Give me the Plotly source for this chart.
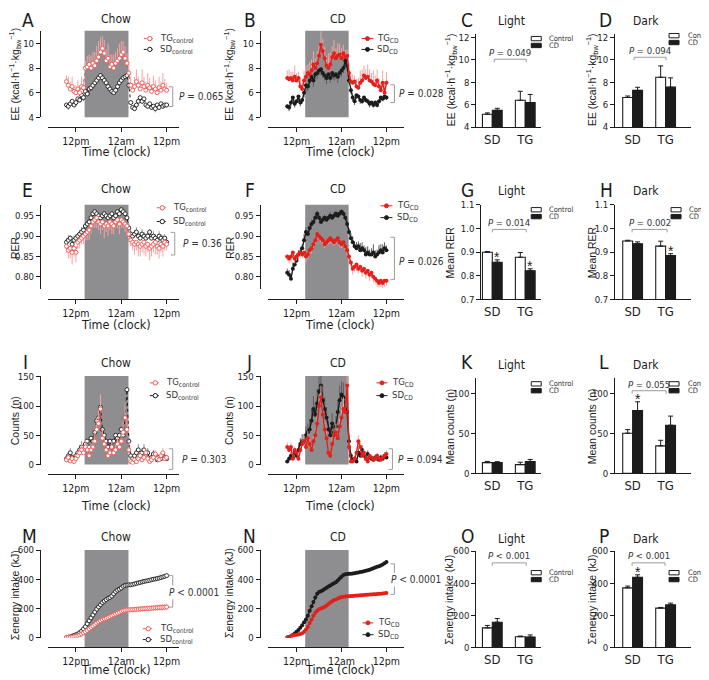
import plotly.graph_objects as go

W, H = 709, 680
OFF = 8                      # default page (body) margin of the written html
FW, FH = W - OFF, H - OFF
NARROW = "Liberation Sans Narrow, DejaVu Sans Condensed, Liberation Sans, Arial, sans-serif"
REG = "Liberation Sans, Arial, Helvetica, sans-serif"
INK = "#1c1c1c"
RED = "#e3201b"
RED_CHOW = "#ee5652"
PINK = "#f4a4a4"
SD_ERR_COL = "#8f8f8f"
CD_SD_ERR_COL = "#5c5c5c"
BAND = "#8e8e90"
BRACKET = "#9c9c9c"

# ---------------- data ----------------
TIME = [9.5, 10, 10.5, 11, 11.5, 12, 12.5, 13, 13.5,
        14, 14.5, 15, 15.5, 16, 16.5, 17, 17.5, 18,
        18.5, 19, 19.5, 20, 20.5, 21, 21.5, 22, 22.5,
        23, 23.5, 24, 24.5, 25, 25.5, 26, 26.5, 27,
        27.5, 28, 28.5, 29, 29.5, 30, 30.5, 31, 31.5,
        32, 32.5, 33, 33.5, 34, 34.5, 35, 35.5, 36]
TIME_TICKS = [12, 24, 36]
TIME_LABELS = ["12pm", "12am", "12pm"]
DARK_PHASE = [14.3, 25.9]
GROUPS = ["SD", "TG"]

# A  EE chow
EE_CHOW_TG = [6.9, 6.6, 6.3, 6.5, 6.1, 6.0, 6.3, 6.0, 6.5,
              6.4, 8.0, 8.1, 8.3, 8.0, 8.4, 8.2, 8.6, 8.9,
              9.3, 9.6, 9.2, 8.6, 8.8, 8.1, 8.3, 8.0, 8.4,
              8.6, 8.8, 9.1, 9.3, 8.8, 8.4, 7.6, 6.6, 6.2,
              6.5, 6.9, 6.6, 6.3, 6.8, 6.5, 6.2, 6.6, 6.4,
              6.1, 6.5, 6.3, 6.0, 6.4, 6.2, 6.6, 6.3, 6.2]
EE_CHOW_TG_ERR = [0.5, 0.7, 0.6, 0.8, 0.5, 0.6, 0.7, 0.6, 0.8,
                  0.7, 0.6, 0.9, 0.8, 1.0, 0.9, 1.1, 1.2, 1.3,
                  1.2, 1.0, 1.1, 0.9, 1.2, 1.0, 0.8, 1.1, 0.9,
                  1.0, 1.2, 1.1, 0.9, 1.0, 0.8, 0.9, 0.7, 0.6,
                  0.8, 1.0, 0.7, 0.6, 1.1, 0.8, 0.7, 1.0, 0.8,
                  0.6, 0.9, 0.7, 0.6, 0.9, 0.7, 1.0, 0.8, 0.6]
EE_CHOW_SD = [5.0, 4.9, 5.1, 5.3, 5.0, 5.2, 5.5, 5.4, 5.8,
              5.6, 6.1, 5.9, 6.3, 6.4, 6.6, 6.8, 7.0, 7.2,
              7.4, 7.2, 7.0, 6.8, 6.5, 6.3, 6.1, 6.0, 6.2,
              6.5, 6.8, 7.0, 7.2, 7.3, 7.4, 6.6, 5.2, 4.8,
              4.7, 5.0, 5.3, 5.6, 5.3, 5.5, 5.0, 4.9, 5.1,
              4.8, 4.9, 4.7, 5.0, 4.8, 5.1, 4.9, 5.0, 5.0]
EE_CHOW_SD_ERR = [0.2, 0.3, 0.2, 0.3, 0.2, 0.3, 0.3, 0.2, 0.4,
                  0.3, 0.4, 0.3, 0.4, 0.3, 0.4, 0.4, 0.3, 0.4,
                  0.3, 0.4, 0.3, 0.3, 0.4, 0.3, 0.3, 0.4, 0.3,
                  0.4, 0.3, 0.4, 0.3, 0.4, 0.3, 0.3, 0.2, 0.2,
                  0.2, 0.3, 0.2, 0.3, 0.2, 0.3, 0.2, 0.2, 0.3,
                  0.2, 0.2, 0.3, 0.2, 0.2, 0.3, 0.2, 0.2, 0.2]

# B  EE CD
EE_CD_TG = [7.2, 7.1, 7.2, 7.0, 7.3, 7.0, 7.2, 6.5, 6.3,
            7.0, 7.3, 7.6, 7.5, 7.8, 8.3, 8.0, 8.4, 9.0,
            9.9, 9.4, 8.8, 8.2, 8.0, 8.3, 8.9, 9.2, 8.8,
            9.0, 9.1, 8.8, 9.2, 8.9, 9.0, 7.6, 6.9, 6.8,
            6.9, 6.5, 6.4, 6.8, 7.0, 7.4, 7.2, 7.3, 7.0,
            6.9, 6.7, 6.6, 7.0, 6.5, 6.2, 6.8, 6.0, 6.8]
EE_CD_TG_ERR = [0.6, 0.8, 0.5, 0.7, 0.9, 0.6, 0.5, 0.7, 0.6,
                0.8, 0.9, 0.7, 1.0, 0.9, 1.1, 0.8, 1.0, 0.9,
                1.1, 1.0, 0.9, 0.8, 1.2, 1.0, 0.9, 1.1, 0.8,
                1.0, 0.9, 0.8, 0.7, 0.6, 0.5, 0.8, 0.6, 0.7,
                0.5, 0.6, 0.8, 1.0, 0.9, 0.8, 0.7, 1.0, 0.9,
                0.7, 1.1, 0.8, 0.9, 0.7, 0.6, 1.0, 0.8, 0.9]
EE_CD_SD = [4.9, 4.8, 5.2, 5.6, 5.1, 5.3, 5.7, 5.2, 5.4,
            6.0, 6.6, 6.5, 7.0, 7.3, 7.0, 7.5, 7.6, 7.8,
            7.9, 7.6, 7.4, 7.2, 7.5, 7.2, 7.6, 7.4, 7.5,
            7.3, 7.6, 7.8, 8.0, 8.6, 8.2, 7.0, 6.2, 5.6,
            5.3, 5.8, 5.7, 5.4, 5.3, 5.6, 5.4, 5.3, 5.1,
            5.2, 5.0, 5.2, 5.0, 5.3, 5.6, 5.5, 5.7, 5.6]
EE_CD_SD_ERR = [0.2, 0.3, 0.3, 0.4, 0.3, 0.2, 0.4, 0.3, 0.3,
                0.4, 0.5, 0.4, 0.5, 0.4, 0.5, 0.4, 0.5, 0.4,
                0.5, 0.4, 0.4, 0.5, 0.4, 0.4, 0.5, 0.4, 0.4,
                0.5, 0.4, 0.5, 0.4, 0.5, 0.4, 0.3, 0.3, 0.3,
                0.3, 0.3, 0.2, 0.3, 0.2, 0.3, 0.2, 0.2, 0.3,
                0.2, 0.2, 0.3, 0.2, 0.2, 0.3, 0.2, 0.3, 0.2]

# E  RER chow
RER_CHOW_TG = [0.875, 0.865, 0.870, 0.860, 0.870, 0.860, 0.885, 0.890, 0.895,
               0.900, 0.905, 0.910, 0.915, 0.925, 0.935, 0.940, 0.945, 0.935,
               0.930, 0.935, 0.925, 0.930, 0.925, 0.935, 0.930, 0.925, 0.935,
               0.940, 0.930, 0.940, 0.935, 0.930, 0.925, 0.905, 0.890, 0.885,
               0.880, 0.885, 0.880, 0.875, 0.880, 0.885, 0.875, 0.880, 0.870,
               0.875, 0.880, 0.885, 0.875, 0.870, 0.880, 0.875, 0.885, 0.880]
RER_CHOW_TG_ERR = [0.015, 0.020, 0.025, 0.030, 0.020, 0.025, 0.015, 0.020, 0.015,
                   0.020, 0.015, 0.020, 0.025, 0.020, 0.015, 0.020, 0.025, 0.020,
                   0.025, 0.020, 0.030, 0.020, 0.025, 0.020, 0.025, 0.020, 0.015,
                   0.020, 0.025, 0.020, 0.015, 0.020, 0.025, 0.020, 0.015, 0.020,
                   0.025, 0.020, 0.030, 0.025, 0.020, 0.030, 0.025, 0.020, 0.030,
                   0.025, 0.020, 0.030, 0.020, 0.025, 0.020, 0.025, 0.020, 0.015]
RER_CHOW_SD = [0.885, 0.890, 0.895, 0.880, 0.890, 0.895, 0.900, 0.905, 0.910,
               0.915, 0.925, 0.930, 0.935, 0.945, 0.955, 0.960, 0.955, 0.950,
               0.945, 0.950, 0.955, 0.950, 0.945, 0.950, 0.955, 0.945, 0.950,
               0.960, 0.955, 0.965, 0.960, 0.955, 0.945, 0.920, 0.905, 0.900,
               0.905, 0.910, 0.900, 0.895, 0.905, 0.900, 0.895, 0.900, 0.910,
               0.895, 0.900, 0.895, 0.890, 0.900, 0.895, 0.890, 0.895, 0.885]
RER_CHOW_SD_ERR = [0.010, 0.012, 0.008, 0.010, 0.012, 0.010, 0.008, 0.010, 0.012,
                   0.010, 0.008, 0.010, 0.012, 0.008, 0.010, 0.012, 0.010, 0.008,
                   0.010, 0.012, 0.010, 0.008, 0.010, 0.012, 0.010, 0.008, 0.010,
                   0.012, 0.010, 0.008, 0.010, 0.012, 0.010, 0.012, 0.010, 0.008,
                   0.010, 0.012, 0.010, 0.015, 0.012, 0.010, 0.012, 0.010, 0.008,
                   0.010, 0.012, 0.010, 0.008, 0.012, 0.010, 0.012, 0.010, 0.010]

# F  RER CD
RER_CD_TG = [0.850, 0.845, 0.850, 0.860, 0.845, 0.850, 0.855, 0.860, 0.855,
             0.860, 0.850, 0.855, 0.865, 0.870, 0.880, 0.890, 0.905, 0.900,
             0.895, 0.890, 0.880, 0.885, 0.890, 0.895, 0.890, 0.885, 0.890,
             0.895, 0.885, 0.880, 0.885, 0.875, 0.865, 0.850, 0.835, 0.820,
             0.825, 0.830, 0.820, 0.825, 0.815, 0.820, 0.810, 0.815, 0.805,
             0.810, 0.800, 0.795, 0.790, 0.785, 0.790, 0.785, 0.790, 0.790]
RER_CD_TG_ERR = [0.010, 0.012, 0.015, 0.010, 0.012, 0.010, 0.015, 0.012, 0.010,
                 0.012, 0.015, 0.012, 0.010, 0.012, 0.010, 0.012, 0.010, 0.008,
                 0.010, 0.012, 0.010, 0.008, 0.010, 0.012, 0.010, 0.008, 0.010,
                 0.010, 0.012, 0.010, 0.012, 0.010, 0.012, 0.015, 0.012, 0.015,
                 0.012, 0.015, 0.012, 0.010, 0.015, 0.012, 0.015, 0.012, 0.015,
                 0.012, 0.015, 0.012, 0.015, 0.012, 0.015, 0.012, 0.015, 0.012]
RER_CD_SD = [0.810, 0.805, 0.795, 0.820, 0.830, 0.840, 0.855, 0.860, 0.870,
             0.890, 0.910, 0.905, 0.920, 0.930, 0.935, 0.945, 0.955, 0.945,
             0.935, 0.940, 0.945, 0.940, 0.945, 0.950, 0.945, 0.950, 0.955,
             0.950, 0.955, 0.960, 0.955, 0.945, 0.930, 0.910, 0.895, 0.885,
             0.875, 0.870, 0.875, 0.865, 0.870, 0.865, 0.855, 0.860, 0.855,
             0.855, 0.860, 0.850, 0.855, 0.860, 0.865, 0.860, 0.870, 0.865]
RER_CD_SD_ERR = [0.010, 0.012, 0.010, 0.015, 0.010, 0.012, 0.010, 0.012, 0.010,
                 0.015, 0.012, 0.010, 0.012, 0.010, 0.008, 0.010, 0.008, 0.010,
                 0.008, 0.010, 0.008, 0.010, 0.008, 0.010, 0.008, 0.010, 0.008,
                 0.010, 0.008, 0.006, 0.008, 0.010, 0.012, 0.010, 0.012, 0.015,
                 0.012, 0.015, 0.012, 0.018, 0.015, 0.012, 0.018, 0.015, 0.012,
                 0.015, 0.020, 0.015, 0.012, 0.018, 0.015, 0.020, 0.015, 0.012]

# I  counts chow
CNT_CHOW_TG = [8, 12, 6, 10, 5, 10, 15, 20, 25,
               20, 30, 25, 15, 25, 30, 40, 60, 70,
               95, 45, 35, 25, 15, 20, 30, 20, 25,
               35, 30, 40, 55, 80, 60, 25, 5, 3,
               8, 5, 10, 15, 8, 12, 20, 10, 5,
               8, 12, 18, 10, 8, 15, 20, 10, 12]
CNT_CHOW_TG_ERR = [4, 5, 3, 5, 3, 5, 6, 8, 10,
                   8, 12, 10, 7, 10, 12, 15, 20, 22,
                   25, 15, 12, 10, 6, 8, 10, 8, 10,
                   12, 10, 15, 18, 25, 20, 10, 3, 2,
                   4, 3, 5, 6, 4, 5, 8, 5, 3,
                   4, 5, 7, 5, 4, 6, 8, 5, 5]
CNT_CHOW_SD = [10, 15, 20, 12, 8, 15, 20, 25, 30,
               25, 35, 40, 30, 45, 40, 55, 75, 80,
               98, 60, 50, 40, 30, 40, 30, 40, 50,
               45, 50, 60, 50, 80, 128, 40, 15, 10,
               15, 20, 25, 15, 20, 25, 15, 20, 10,
               12, 18, 15, 8, 12, 10, 15, 12, 10]
CNT_CHOW_SD_ERR = [4, 6, 8, 5, 4, 6, 7, 8, 10,
                   8, 12, 15, 10, 15, 12, 18, 20, 25,
                   22, 18, 15, 12, 10, 12, 10, 12, 15,
                   12, 15, 18, 15, 20, 25, 12, 6, 5,
                   6, 8, 10, 7, 8, 10, 6, 8, 5,
                   5, 7, 6, 4, 5, 5, 6, 5, 4]

# J  counts CD
CNT_CD_TG = [30, 25, 30, 10, 25, 20, 10, 25, 35,
             40, 30, 45, 35, 25, 40, 50, 70, 100,
             115, 85, 60, 45, 20, 15, 35, 50, 55,
             45, 65, 80, 95, 90, 135, 30, 5, 5,
             10, 20, 40, 30, 15, 20, 10, 5, 15,
             12, 8, 10, 15, 10, 8, 12, 15, 18]
CNT_CD_TG_ERR = [8, 6, 8, 4, 6, 5, 4, 6, 8,
                 10, 8, 12, 10, 8, 10, 12, 15, 20,
                 20, 18, 15, 12, 6, 5, 10, 12, 15,
                 12, 15, 18, 20, 15, 20, 10, 3, 3,
                 4, 6, 10, 8, 5, 6, 4, 3, 5,
                 4, 3, 4, 5, 4, 3, 4, 5, 6]
CNT_CD_SD = [5, 10, 15, 12, 20, 15, 25, 35, 40,
             40, 50, 55, 60, 75, 95, 85, 105, 125,
             135, 110, 95, 80, 60, 50, 70, 55, 65,
             90, 110, 120, 115, 95, 90, 40, 15, 8,
             10, 5, 20, 15, 25, 15, 10, 18, 12,
             10, 8, 12, 10, 8, 12, 10, 15, 12]
CNT_CD_SD_ERR = [3, 5, 6, 5, 8, 6, 8, 10, 12,
                 12, 15, 15, 18, 20, 22, 20, 25, 25,
                 22, 25, 20, 18, 15, 15, 18, 15, 18,
                 20, 25, 22, 25, 20, 18, 10, 6, 4,
                 5, 3, 8, 6, 8, 6, 5, 6, 5,
                 4, 4, 5, 4, 4, 5, 4, 6, 5]

# M  cumulative intake chow
INT_CHOW_TG = [0, 2, 3, 5, 7, 10, 14, 18, 25,
               32, 40, 50, 60, 70, 80, 90, 100, 108,
               115, 122, 128, 133, 138, 143, 150, 156, 162,
               168, 174, 180, 185, 188, 190, 190, 191, 192,
               193, 194, 195, 196, 197, 198, 199, 200, 201,
               202, 203, 204, 205, 206, 207, 208, 209, 210]
INT_CHOW_TG_ERR = [1, 2, 2, 3, 3, 4, 4, 5, 5,
                   6, 6, 7, 8, 8, 9, 10, 10, 11,
                   11, 12, 12, 13, 13, 14, 14, 15, 15,
                   16, 16, 17, 17, 18, 18, 18, 18, 18,
                   18, 19, 19, 19, 19, 19, 20, 20, 20,
                   20, 20, 21, 21, 21, 21, 22, 22, 22]
INT_CHOW_SD = [0, 3, 5, 10, 15, 20, 25, 35, 45,
               60, 75, 95, 115, 135, 155, 175, 195, 210,
               225, 240, 250, 260, 270, 275, 285, 300, 315,
               325, 332, 340, 352, 358, 360, 362, 362, 365,
               368, 372, 375, 378, 382, 385, 388, 390, 393,
               397, 400, 402, 405, 408, 412, 416, 420, 425]
INT_CHOW_SD_ERR = [2, 2, 3, 3, 3, 4, 4, 4, 5,
                   5, 5, 6, 6, 6, 7, 7, 7, 8,
                   8, 8, 8, 9, 9, 9, 9, 10, 10,
                   10, 10, 10, 10, 10, 10, 10, 10, 10,
                   10, 10, 10, 11, 11, 11, 11, 11, 11,
                   11, 12, 12, 12, 12, 12, 12, 12, 12]

# N  cumulative intake CD
INT_CD_TG = [0, 5, 10, 15, 18, 20, 22, 25, 30,
             40, 55, 75, 100, 125, 150, 170, 185, 195,
             200, 205, 212, 220, 230, 240, 250, 258, 262,
             268, 273, 278, 280, 282, 283, 284, 285, 286,
             287, 288, 289, 290, 291, 292, 293, 294, 295,
             296, 297, 298, 299, 300, 301, 302, 304, 306]
INT_CD_SD = [0, 5, 10, 18, 28, 40, 52, 68, 85,
             105, 125, 150, 185, 215, 245, 275, 300, 312,
             318, 325, 333, 342, 350, 358, 366, 372, 380,
             392, 405, 418, 430, 435, 436, 437, 438, 440,
             442, 445, 447, 450, 452, 455, 458, 462, 465,
             470, 475, 480, 485, 490, 495, 502, 510, 518]

# bar panels: [SD, TG]
EE_LIGHT_CTRL, EE_LIGHT_CTRL_ERR = [5.15, 6.4], [0.12, 0.8]
EE_LIGHT_CD, EE_LIGHT_CD_ERR = [5.5, 6.2], [0.18, 0.72]
EE_DARK_CTRL, EE_DARK_CTRL_ERR = [6.65, 8.45], [0.13, 1.02]
EE_DARK_CD, EE_DARK_CD_ERR = [7.28, 7.57], [0.28, 0.83]
RER_LIGHT_CTRL, RER_LIGHT_CTRL_ERR = [0.899, 0.878], [0.003, 0.020]
RER_LIGHT_CD, RER_LIGHT_CD_ERR = [0.857, 0.821], [0.010, 0.008]
RER_DARK_CTRL, RER_DARK_CTRL_ERR = [0.947, 0.925], [0.003, 0.021]
RER_DARK_CD, RER_DARK_CD_ERR = [0.935, 0.885], [0.008, 0.008]
CNT_LIGHT_CTRL, CNT_LIGHT_CTRL_ERR = [13.5, 11], [1.5, 3]
CNT_LIGHT_CD, CNT_LIGHT_CD_ERR = [13.5, 15], [1.2, 2.5]
CNT_DARK_CTRL, CNT_DARK_CTRL_ERR = [50.5, 34.6], [4.5, 7]
CNT_DARK_CD, CNT_DARK_CD_ERR = [79, 60.5], [11, 11.5]
INT_LIGHT_CTRL, INT_LIGHT_CTRL_ERR = [122, 67], [15, 4]
INT_LIGHT_CD, INT_LIGHT_CD_ERR = [157, 65], [23, 13]
INT_DARK_CTRL, INT_DARK_CTRL_ERR = [371, 245], [11, 4]
INT_DARK_CD, INT_DARK_CD_ERR = [437, 265], [15, 11]

for arr in [EE_CHOW_TG, EE_CHOW_TG_ERR, EE_CHOW_SD, EE_CHOW_SD_ERR, EE_CD_TG, EE_CD_TG_ERR,
            EE_CD_SD, EE_CD_SD_ERR, RER_CHOW_TG, RER_CHOW_TG_ERR, RER_CHOW_SD, RER_CHOW_SD_ERR,
            RER_CD_TG, RER_CD_TG_ERR, RER_CD_SD, RER_CD_SD_ERR, CNT_CHOW_TG, CNT_CHOW_TG_ERR,
            CNT_CHOW_SD, CNT_CHOW_SD_ERR, CNT_CD_TG, CNT_CD_TG_ERR, CNT_CD_SD, CNT_CD_SD_ERR,
            INT_CHOW_TG, INT_CHOW_TG_ERR, INT_CHOW_SD, INT_CHOW_SD_ERR, INT_CD_TG, INT_CD_SD]:
    assert len(arr) == len(TIME), len(arr)

# ---------------- helpers (page-pixel -> paper) ----------------
def X(p):
    return (p - OFF) / FW


def Y(p):
    return 1 - (p - OFF) / FH


def aid(n):
    return "" if n == 1 else str(n)


fig = go.Figure()
shapes, anns = [], []
layout = dict(width=FW, height=FH, margin=dict(l=0, r=0, t=0, b=0),
              paper_bgcolor="white", plot_bgcolor="rgba(0,0,0,0)", showlegend=False,
              font=dict(family=NARROW, color=INK), barmode="group", bargap=0.4, bargroupgap=0)

AX = dict(showline=True, linecolor=INK, linewidth=1, ticks="outside", ticklen=4, tickwidth=1,
          tickcolor=INK, showgrid=False, zeroline=False, fixedrange=True)


def text(x, y, s, size, anchor="center", angle=0, color=INK, family=NARROW):
    anns.append(dict(xref="paper", yref="paper", x=X(x), y=Y(y), text=s, showarrow=False,
                     xanchor=anchor, yanchor="middle", textangle=angle,
                     font=dict(size=size, color=color, family=family)))


def seg(x0, y0, x1, y1, color, width=1, dash="solid"):
    shapes.append(dict(type="line", xref="paper", yref="paper", x0=X(x0), y0=Y(y0),
                       x1=X(x1), y1=Y(y1), line=dict(color=color, width=width, dash=dash)))


LEFT_T = dict(dom_x=(48, 179), yaxis_px=40, xr=[4.6, 39.2])
RIGHT_T = dict(dom_x=(268, 405), yaxis_px=260, xr=[4.27, 40.8])
ROW_T = {
    1: dict(dom_y=(25, 113), xaxis_py=123, yr=[4, 11.04], yt=[4, 6, 8, 10], ytt=None, band=113),
    2: dict(dom_y=(202, 288), xaxis_py=298, yr=[0.769, 0.977], yt=[0.80, 0.85, 0.90, 0.95],
            ytt=["0.80", "0.85", "0.90", "0.95"], band=298),
    3: dict(dom_y=(376, 466), xaxis_py=476, yr=[0, 151.5], yt=[0, 50, 100, 150], ytt=None, band=466),
    4: dict(dom_y=(553, 642), xaxis_py=652, yr=[0, 600], yt=[0, 200, 400, 600], ytt=None, band=652),
}


def err_spec(err, direction, color):
    if err is None:
        return dict(visible=False)
    if direction == "both":
        return dict(type="data", array=err, symmetric=True, color=color, thickness=1, width=0)
    zeros = [0] * len(err)
    if direction == "up":
        return dict(type="data", symmetric=False, array=err, arrayminus=zeros,
                    color=color, thickness=1, width=0)
    return dict(type="data", symmetric=False, array=zeros, arrayminus=err,
                color=color, thickness=1, width=0)


def time_panel(n, side, row, tg, tg_err, tg_dir, sd, sd_err, sd_dir, diet):
    a = aid(n)
    r = ROW_T[row]
    layout["xaxis" + a] = dict(domain=[X(side["dom_x"][0]), X(side["dom_x"][1])], range=side["xr"],
                               anchor="free", position=Y(r["xaxis_py"]), tickmode="array",
                               tickvals=TIME_TICKS, ticktext=TIME_LABELS,
                               tickfont=dict(size=10.5, family=NARROW, color=INK), **AX)
    yax = dict(domain=[Y(r["dom_y"][1]), Y(r["dom_y"][0])], range=r["yr"], anchor="free",
               position=X(side["yaxis_px"]), tickmode="array", tickvals=r["yt"],
               tickfont=dict(size=9.5, family=NARROW, color=INK), **AX)
    if r["ytt"]:
        yax["ticktext"] = r["ytt"]
    layout["yaxis" + a] = yax
    shapes.append(dict(type="rect", xref="x" + a, yref="paper", x0=DARK_PHASE[0], x1=DARK_PHASE[1],
                       y0=Y(r["band"]), y1=Y(r["dom_y"][0]), fillcolor=BAND, line=dict(width=0),
                       layer="below"))
    chow = diet == "chow"
    for vals, err, d, col, ecol in [(sd, sd_err, sd_dir, INK, SD_ERR_COL if chow else CD_SD_ERR_COL),
                                    (tg, tg_err, tg_dir, RED_CHOW if chow else RED, PINK)]:
        if chow:
            ln = dict(color=col, width=1, dash="dot")
            mk = dict(symbol="circle", size=4, color="white", line=dict(color=col, width=0.9))
        else:
            ln = dict(color=col, width=1.4)
            mk = dict(symbol="circle", size=4, color=col, line=dict(width=0))
        fig.add_trace(go.Scatter(x=TIME, y=vals, xaxis="x" + a, yaxis="y" + a, mode="lines+markers",
                                 line=ln, marker=mk, error_y=err_spec(err, d, ecol),
                                 hoverinfo="skip"))


LEFT_B = dict(dom_x=(477, 542), xr=[-0.485, 1.485])
LEFT_B_TIGHT = dict(dom_x=(482, 542), xr=[-0.333, 1.485])
RIGHT_B = dict(dom_x=(616, 692), xr=[-0.53, 1.77])
ROW_B = {
    1: dict(dom_y=(28, 123), yr=[4, 12.35], yt=[4, 6, 8, 10, 12], ytt=None),
    2: dict(dom_y=(202, 298), yr=[0.7, 1.1], yt=[0.7, 0.8, 0.9, 1.0, 1.1],
            ytt=["0.7", "0.8", "0.9", "1.0", "1.1"]),
    3: dict(dom_y=(378, 475), yr=[0, 120], yt=[0, 50, 100], ytt=None),
    4: dict(dom_y=(554, 652), yr=[0, 600], yt=[0, 200, 400, 600], ytt=None),
}


def bar_panel(n, side, row, ctrl, ctrl_err, cd, cd_err, stars):
    a = aid(n)
    r = ROW_B[row]
    layout["xaxis" + a] = dict(domain=[X(side["dom_x"][0]), X(side["dom_x"][1])], range=side["xr"],
                               anchor="y" + a, type="category", showline=True, linecolor=INK,
                               linewidth=1, ticks="", showgrid=False, zeroline=False, fixedrange=True,
                               tickfont=dict(size=13, family=NARROW, color=INK))
    yax = dict(domain=[Y(r["dom_y"][1]), Y(r["dom_y"][0])], range=r["yr"], anchor="x" + a,
               tickmode="array", tickvals=r["yt"],
               tickfont=dict(size=9.5, family=NARROW, color=INK), **AX)
    if r["ytt"]:
        yax["ticktext"] = r["ytt"]
    layout["yaxis" + a] = yax
    for vals, err, fill in [(ctrl, ctrl_err, "white"), (cd, cd_err, INK)]:
        fig.add_trace(go.Bar(x=GROUPS, y=vals, xaxis="x" + a, yaxis="y" + a,
                             marker=dict(color=fill, line=dict(color=INK, width=1.1)),
                             error_y=dict(type="data", symmetric=False, array=err,
                                          arrayminus=[0] * len(err), color=INK, thickness=1, width=2.5),
                             hoverinfo="skip"))
    for i in stars:
        anns.append(dict(xref="x" + a, yref="y" + a, x=i + 0.15, y=cd[i] + cd_err[i], text="*",
                         showarrow=False, xanchor="center", yanchor="bottom", yshift=-7,
                         font=dict(size=14, color=INK, family=REG)))


# ---------------- panels ----------------
time_panel(1, LEFT_T, 1, EE_CHOW_TG, EE_CHOW_TG_ERR, "up", EE_CHOW_SD, EE_CHOW_SD_ERR, "down", "chow")
time_panel(2, RIGHT_T, 1, EE_CD_TG, EE_CD_TG_ERR, "up", EE_CD_SD, EE_CD_SD_ERR, "down", "cd")
bar_panel(3, LEFT_B, 1, EE_LIGHT_CTRL, EE_LIGHT_CTRL_ERR, EE_LIGHT_CD, EE_LIGHT_CD_ERR, [])
bar_panel(4, RIGHT_B, 1, EE_DARK_CTRL, EE_DARK_CTRL_ERR, EE_DARK_CD, EE_DARK_CD_ERR, [])

time_panel(5, LEFT_T, 2, RER_CHOW_TG, RER_CHOW_TG_ERR, "down", RER_CHOW_SD, RER_CHOW_SD_ERR, "up", "chow")
time_panel(6, RIGHT_T, 2, RER_CD_TG, RER_CD_TG_ERR, "down", RER_CD_SD, RER_CD_SD_ERR, "up", "cd")
bar_panel(7, LEFT_B_TIGHT, 2, RER_LIGHT_CTRL, RER_LIGHT_CTRL_ERR, RER_LIGHT_CD, RER_LIGHT_CD_ERR, [0, 1])
bar_panel(8, RIGHT_B, 2, RER_DARK_CTRL, RER_DARK_CTRL_ERR, RER_DARK_CD, RER_DARK_CD_ERR, [1])

time_panel(9, LEFT_T, 3, CNT_CHOW_TG, CNT_CHOW_TG_ERR, "up", CNT_CHOW_SD, CNT_CHOW_SD_ERR, "up", "chow")
time_panel(10, RIGHT_T, 3, CNT_CD_TG, CNT_CD_TG_ERR, "up", CNT_CD_SD, CNT_CD_SD_ERR, "up", "cd")
bar_panel(11, LEFT_B, 3, CNT_LIGHT_CTRL, CNT_LIGHT_CTRL_ERR, CNT_LIGHT_CD, CNT_LIGHT_CD_ERR, [])
bar_panel(12, RIGHT_B, 3, CNT_DARK_CTRL, CNT_DARK_CTRL_ERR, CNT_DARK_CD, CNT_DARK_CD_ERR, [0])

time_panel(13, LEFT_T, 4, INT_CHOW_TG, INT_CHOW_TG_ERR, "both", INT_CHOW_SD, INT_CHOW_SD_ERR, "both", "chow")
time_panel(14, RIGHT_T, 4, INT_CD_TG, None, "both", INT_CD_SD, None, "both", "cd")
bar_panel(15, LEFT_B, 4, INT_LIGHT_CTRL, INT_LIGHT_CTRL_ERR, INT_LIGHT_CD, INT_LIGHT_CD_ERR, [])
bar_panel(16, RIGHT_B, 4, INT_DARK_CTRL, INT_DARK_CTRL_ERR, INT_DARK_CD, INT_DARK_CD_ERR, [0])

# ---------------- text decorations ----------------
LETTERS = [("A", 28, 14), ("B", 250, 14), ("C", 468, 14), ("D", 606, 14),
           ("E", 28, 187), ("F", 250, 187), ("G", 468, 187), ("H", 607, 187),
           ("I", 26, 362), ("J", 249, 362), ("K", 468, 362), ("L", 605, 362),
           ("M", 30, 539), ("N", 250, 539), ("O", 468, 539), ("P", 605, 539)]
for s, x, y in LETTERS:
    text(x, y, s, 19)

TITLE_ROWS = [13, 186, 363, 540]
for ty in TITLE_ROWS:
    text(116, ty, "Chow", 12)
    text(338, ty, "CD", 12)
    text(512, ty + 2, "Light", 12)
    text(647, ty + 2, "Dark", 12)

for ty in [148, 324, 508, 674]:
    text(116, ty, "Time (clock)", 12.5)
    text(340, ty, "Time (clock)", 12.5)

EE_T = "EE (kcal·h<sup>−1</sup>·kg<sub>bw</sub><sup>−1</sup>)"
YTITLES = [
    (EE_T, 15.5, 69), (EE_T, 230, 69), (EE_T, 452, 75), (EE_T, 593, 75),
    ("RER", 15, 245), ("RER", 230, 245), ("Mean RER", 451, 250), ("Mean RER", 593, 250),
    ("Counts (n)", 15, 421), ("Counts (n)", 230, 421), ("Mean counts (n)", 451, 427),
    ("Mean counts (n)", 593, 427),
    ("Σenergy intake (kJ)", 15, 599), ("Σenergy intake (kJ)", 230, 597),
    ("Σenergy intake (kJ)", 450, 603), ("Σenergy intake (kJ)", 593, 603),
]
for s, x, y in YTITLES:
    text(x, y, s, 10.5, angle=-90, family=REG)

# time-course legends
TIME_LEG = [(144, 156, 33, 44, 158, "chow"), (362, 374, 33, 44, 376, "cd"),
            (157, 168, 205, 219, 171, "chow"), (381, 393, 203, 215, 396, "cd"),
            (150, 161, 383, 396, 164, "chow"), (377, 388, 383, 396, 391, "cd"),
            (143, 154, 633, 644, 158, "chow"), (363, 374, 627, 639, 377, "cd")]
for x0, x1, y_tg, y_sd, tx, diet in TIME_LEG:
    chow = diet == "chow"
    for y, col, lab in [(y_tg, RED_CHOW if chow else RED, "TG"), (y_sd, INK, "SD")]:
        seg(x0, y, x1, y, col, 1, "dot" if chow else "solid")
        cx, rr = (x0 + x1) / 2, (2.2 if chow else 2)
        shapes.append(dict(type="circle", xref="paper", yref="paper", x0=X(cx - rr), x1=X(cx + rr),
                           y0=Y(y + rr), y1=Y(y - rr), fillcolor="white" if chow else col,
                           line=dict(color=col, width=1)))
        text(tx, y, lab + "<sub>" + ("control" if chow else "CD") + "</sub>", 9.5, "left", color="#333")

# bar legends
BAR_LEG = [(532, 542, 33, 40, 548), (670, 680, 30, 37, 687),
           (532, 542, 207, 214, 548), (672, 682, 207, 214, 688),
           (532, 542, 384, 391, 548), (670, 680, 384, 391, 687),
           (532, 542, 576, 583, 548), (670, 680, 576, 583, 687)]
for x0, x1, yc, yd, tx in BAR_LEG:
    shapes.append(dict(type="rect", xref="paper", yref="paper", x0=X(x0), x1=X(x1), y0=Y(yc + 2.2),
                       y1=Y(yc - 2.2), fillcolor="white", line=dict(color=INK, width=1)))
    shapes.append(dict(type="rect", xref="paper", yref="paper", x0=X(x0), x1=X(x1), y0=Y(yd + 2.2),
                       y1=Y(yd - 2.2), fillcolor=INK, line=dict(color=INK, width=1)))
    text(tx, yc, "Control", 7.5, "left", color="#333")
    text(tx, yd, "CD", 7.5, "left", color="#333")

# P-value brackets, time courses
TIME_P = [(173, [(82, 102)], "<i>P</i> = 0.065", 177, 92),
          (395, [(80, 98)], "<i>P</i> = 0.028", 398, 89),
          (175, [(230, 253)], "<i>P</i> = 0.36", 181, 241),
          (395, [(235, 278)], "<i>P</i> = 0.026", 398, 260),
          (173, [(450, 471)], "<i>P</i> = 0.303", 180, 461),
          (393, [(450, 471)], "<i>P</i> = 0.094", 397, 461),
          (173, [(579, 589), (603, 611)], "<i>P</i> &lt; 0.0001", 167, 596),
          (395, [(567, 576), (590, 598)], "<i>P</i> &lt; 0.0001", 390, 583)]
for x, segs, lab, tx, ty in TIME_P:
    for y0, y1 in segs:
        seg(x, y0, x, y1, BRACKET)
    seg(x - 4, segs[0][0], x, segs[0][0], BRACKET)
    seg(x - 4, segs[-1][1], x, segs[-1][1], BRACKET)
    text(tx, ty, lab, 10, "left", color="#333")

# P-value brackets, bar charts
BAR_P = [(495, 527, 54, "<i>P</i> = 0.049", 47), (635, 667, 52, "<i>P</i> = 0.094", 45),
         (493, 527, 227, "<i>P</i> = 0.014", 220), (633, 668, 227, "<i>P</i> = 0.002", 220),
         (633, 667, 391, "<i>P</i> = 0.055", 385),
         (493, 527, 566, "<i>P</i> &lt; 0.001", 559), (633, 666, 566, "<i>P</i> &lt; 0.001", 559)]
for x0, x1, y, lab, ty in BAR_P:
    seg(x0, y, x1, y, BRACKET)
    seg(x0, y, x0, y + 3, BRACKET)
    seg(x1, y, x1, y + 3, BRACKET)
    text((x0 + x1) / 2, ty, lab, 9.5, color="#333")

layout["shapes"] = shapes
layout["annotations"] = anns
fig.update_layout(**layout)
fig.write_html("out.html")
